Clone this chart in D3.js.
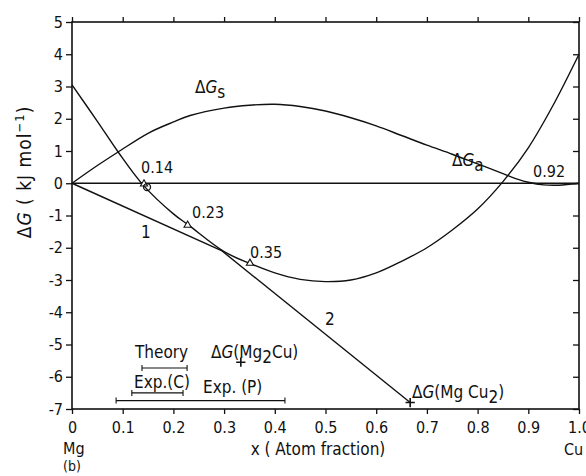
<!DOCTYPE html>
<html>
<head>
<meta charset="utf-8">
<script src="https://cdn.jsdelivr.net/npm/d3@7"></script>
<style>
  body { margin: 0; background: #fff; }
  text { font-family: "DejaVu Sans Condensed", "DejaVu Sans", sans-serif; fill: #111; }
</style>
</head>
<body>
<div id="chart"></div>
<script>
// values
const xTicks = [0, 0.1, 0.2, 0.3, 0.4, 0.5, 0.6, 0.7, 0.8, 0.9, 1.0]
const xTickLabels = ["0", "0.1", "0.2", "0.3", "0.4", "0.5", "0.6", "0.7", "0.8", "0.9", "1.0"]
const yTicks = [5, 4, 3, 2, 1, 0, -1, -2, -3, -4, -5, -6, -7]

// amorphous phase curve
const gA = [
  [0, 3.05], [0.05, 1.92], [0.091, 0.97], [0.14, -0.05], [0.2, -0.95], [0.23, -1.3],
  [0.3, -2.12], [0.35, -2.48], [0.4, -2.78], [0.45, -2.98], [0.5, -3.05], [0.55, -3.0],
  [0.6, -2.78], [0.65, -2.42], [0.7, -2.0], [0.75, -1.45], [0.8, -0.8], [0.85, 0.05],
  [0.9, 1.1], [0.95, 2.45], [1.0, 4.0]
]
// solid solution curve
const gS = [
  [0, 0], [0.05, 0.55], [0.091, 0.97], [0.15, 1.55], [0.2, 1.9], [0.233, 2.1],
  [0.3, 2.33], [0.35, 2.42], [0.4, 2.45], [0.45, 2.38], [0.5, 2.24], [0.55, 2.03],
  [0.6, 1.78], [0.65, 1.48], [0.7, 1.18], [0.75, 0.9], [0.8, 0.6], [0.85, 0.3],
  [0.88, 0.12], [0.9, 0.03], [0.93, -0.05], [0.96, -0.06], [1.0, 0]
]
const line1 = [[0, 0], [0.296, -2.1]]
const line2 = [[0.296, -2.1], [0.667, -6.8]]
const zeroLine = [[0, 0], [1, 0]]

const trianglePts = [[0.142, -0.02], [0.228, -1.3], [0.351, -2.48]]
const circlePts = [[0.148, -0.12]]
const plusPts = [[0.333, -5.55], [0.667, -6.8]]

// measured ranges
const ranges = [
  { name: "Theory", from: 0.138, to: 0.227, y: -5.73 },
  { name: "Exp.(C)", from: 0.118, to: 0.219, y: -6.5 },
  { name: "Exp. (P)", from: 0.087, to: 0.42, y: -6.74 }
]

const width = 586
const height = 476

const x = d3.scaleLinear().domain([0, 1]).range([72, 579])
const y = d3.scaleLinear().domain([-7, 5]).range([409, 22])

const svg = d3.select('#chart').append('svg')
  .attr('width', width).attr('height', height)

const ink = '#111'

// frame
svg.append('rect')
  .attr('x', x(0)).attr('y', y(5))
  .attr('width', x(1) - x(0)).attr('height', y(-7) - y(5))
  .attr('fill', 'none').attr('stroke', ink).attr('stroke-width', 1.6)

// left axis
const yAxis = d3.axisLeft(y).tickValues(yTicks).tickSize(6).tickPadding(3).tickFormat(d => String(d))
svg.append('g').attr('transform', `translate(${x(0)},0)`).call(yAxis)
  .call(g => g.select('.domain').remove())
  .call(g => g.selectAll('text').attr('font-size', 16))
// right axis (inward ticks)
svg.append('g').attr('transform', `translate(${x(1)},0)`)
  .call(d3.axisLeft(y).tickValues(yTicks).tickSize(6).tickFormat(''))
  .call(g => g.select('.domain').remove())
  .call(g => g.selectAll('line').attr('x2', -6))
// bottom axis
svg.append('g').attr('transform', `translate(0,${y(-7)})`)
  .call(d3.axisBottom(x).tickValues(xTicks).tickSize(5).tickPadding(8).tickFormat((d, i) => xTickLabels[i]))
  .call(g => g.select('.domain').remove())
  .call(g => g.selectAll('text').attr('font-size', 16))
// top axis
svg.append('g').attr('transform', `translate(0,${y(5)})`)
  .call(d3.axisTop(x).tickValues(xTicks).tickSize(5).tickFormat(''))
  .call(g => g.select('.domain').remove())
svg.selectAll('.tick line').attr('stroke', ink).attr('stroke-width', 1.3)

const line = d3.line().x(d => x(d[0])).y(d => y(d[1]))
const curve = d3.line().x(d => x(d[0])).y(d => y(d[1])).curve(d3.curveCatmullRom)

const plot = svg.append('g').attr('fill', 'none').attr('stroke', ink).attr('stroke-width', 1.4)
plot.append('path').attr('d', line(zeroLine))
plot.append('path').attr('d', curve(gA))
plot.append('path').attr('d', curve(gS))
plot.append('path').attr('d', line(line1))
plot.append('path').attr('d', line(line2))

// markers
plot.selectAll('.tri').data(trianglePts).join('path')
  .attr('d', d3.symbol(d3.symbolTriangle, 22))
  .attr('transform', d => `translate(${x(d[0])},${y(d[1])})`)
  .attr('stroke-width', 1.1).attr('fill', '#fff')
plot.selectAll('.circ').data(circlePts).join('circle')
  .attr('cx', d => x(d[0])).attr('cy', d => y(d[1])).attr('r', 3.5)
  .attr('stroke-width', 1.3)
plot.selectAll('.plus').data(plusPts).join('path')
  .attr('d', d3.symbol(d3.symbolPlus, 30))
  .attr('transform', d => `translate(${x(d[0])},${y(d[1])})`)
  .attr('stroke-width', 1.6)

// range bars
const bars = svg.append('g').attr('stroke', ink).attr('stroke-width', 1.1)
ranges.forEach(r => {
  bars.append('line').attr('x1', x(r.from)).attr('x2', x(r.to)).attr('y1', y(r.y)).attr('y2', y(r.y))
  ;[r.from, r.to].forEach(v => bars.append('line')
    .attr('x1', x(v)).attr('x2', x(v)).attr('y1', y(r.y) - 3).attr('y2', y(r.y) + 3))
})

// text labels
function label(tx, ty, parts, size) {
  const t = svg.append('text').attr('x', tx).attr('y', ty).attr('font-size', size || 17)
  parts.forEach(p => {
    const s = t.append('tspan').text(p.t)
    if (p.i) s.attr('font-style', 'italic')
    if (p.dy) s.attr('dy', p.dy)
  })
  return t
}
label(195, 93, [{ t: 'Δ' }, { t: 'G', i: true }, { t: 's', dy: 5 }])
label(452, 166, [{ t: 'Δ' }, { t: 'G', i: true }, { t: 'a', dy: 5 }])
label(141, 173, [{ t: '0.14' }], 16)
label(192, 218, [{ t: '0.23' }], 16)
label(250, 258, [{ t: '0.35' }], 16)
label(533, 177, [{ t: '0.92' }], 16)
label(141, 238, [{ t: '1' }])
label(325, 325, [{ t: '2' }])
label(135, 358, [{ t: 'Theory' }])
label(134, 388, [{ t: 'Exp.(C)' }])
label(203, 393, [{ t: 'Exp. (P)' }])
label(211, 358, [{ t: 'Δ' }, { t: 'G', i: true }, { t: '(Mg' }, { t: '2', dy: 5 }, { t: 'Cu)', dy: -5 }])
label(412, 398, [{ t: 'Δ' }, { t: 'G', i: true }, { t: '(Mg Cu' }, { t: '2', dy: 5 }, { t: ')', dy: -5 }])
label(63, 454, [{ t: 'Mg' }], 16)
label(63, 471, [{ t: '(b)' }], 14)
label(564, 455, [{ t: 'Cu' }], 16)
svg.append('text').attr('x', 318).attr('y', 455).attr('text-anchor', 'middle').attr('font-size', 17)
  .text('x ( Atom fraction)')

// y axis title
const yt = svg.append('text').attr('transform', 'translate(31,172) rotate(-90)')
  .attr('text-anchor', 'middle').attr('font-size', 19).attr('letter-spacing', 1)
yt.append('tspan').text('Δ')
yt.append('tspan').text('G').attr('font-style', 'italic')
yt.append('tspan').text(' ( kJ mol')
yt.append('tspan').text('−1').attr('dy', -7).attr('font-size', 13)
yt.append('tspan').text(')').attr('dy', 7)
</script>
</body>
</html>
